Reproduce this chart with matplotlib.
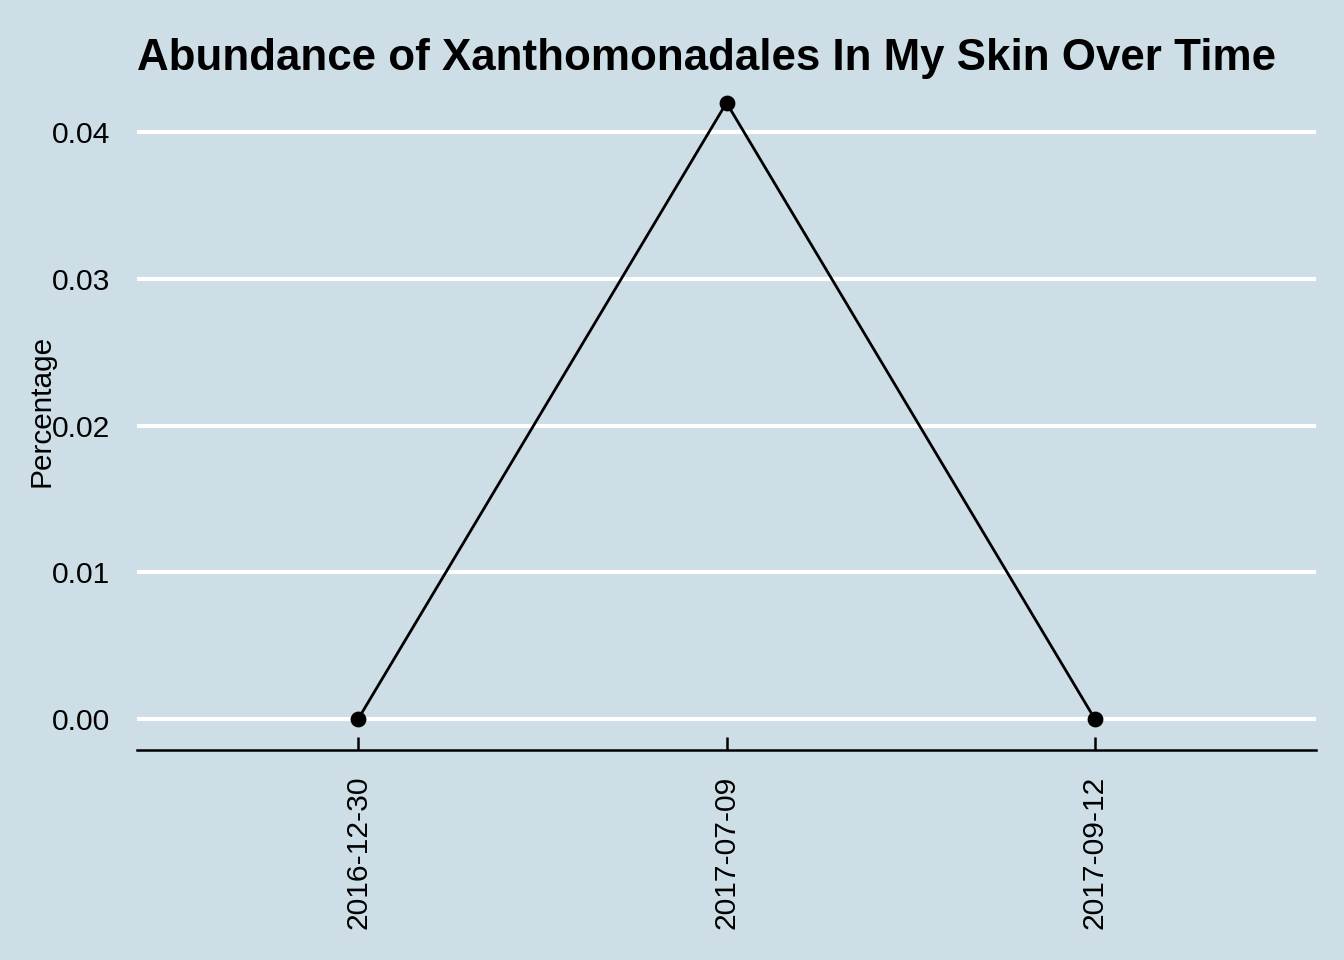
import matplotlib.pyplot as plt

# data
dates = ["2016-12-30", "2017-07-09", "2017-09-12"]
abundance = [0.0, 0.042, 0.0]
y_ticks = [0.00, 0.01, 0.02, 0.03, 0.04]

bg = "#cddee6"
plt.rcParams["font.family"] = ["Liberation Sans", "DejaVu Sans"]

fig = plt.figure(figsize=(6.72, 4.8), dpi=200, facecolor=bg)
ax = fig.add_axes([137 / 1344, 1 - 750 / 960, 1179 / 1344, 678 / 960])
ax.set_facecolor(bg)

x = list(range(1, len(dates) + 1))
ax.plot(x, abundance, color="black", linewidth=1.0, zorder=3)
ax.scatter(x, abundance, color="black", s=22, zorder=4)

ax.set_xlim(0.4, len(dates) + 0.6)
ax.set_ylim(-0.0021, 0.0441)
ax.set_xticks(x)
ax.set_xticklabels(dates, rotation=90, fontsize=10.8)
ax.set_yticks(y_ticks)
ax.set_yticklabels([f"{v:.2f}" for v in y_ticks], fontsize=10.8)

ax.yaxis.grid(True, color="white", linewidth=1.5)
ax.set_axisbelow(True)
for s in ["left", "right", "top"]:
    ax.spines[s].set_visible(False)
ax.spines["bottom"].set_linewidth(0.9)
ax.tick_params(axis="x", direction="in", length=4.7, width=0.9, pad=9.3)
ax.tick_params(axis="y", length=0, pad=9.5)

ax.set_ylabel("Percentage", fontsize=10.7)
ax.yaxis.set_label_coords((55 - 137) / 1179, 0.5)

fig.text(137 / 1344, 1 - 70 / 960, "Abundance of Xanthomonadales In My Skin Over Time",
         fontsize=15.8, fontweight="bold", va="baseline", ha="left")

fig.savefig("out.png", dpi=200, facecolor=bg)
